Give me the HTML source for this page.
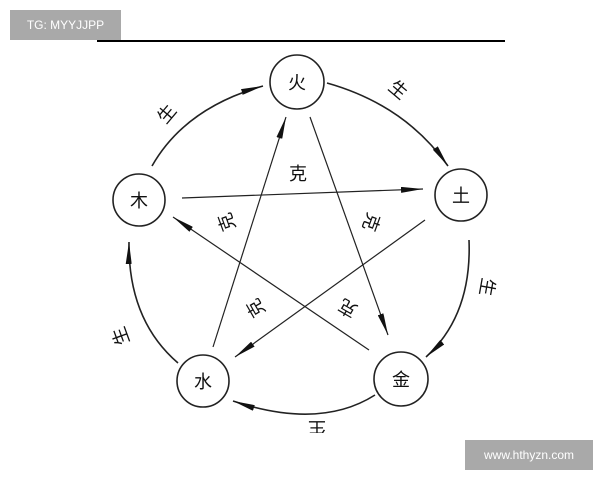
<!DOCTYPE html>
<html><head><meta charset="utf-8"><style>
html,body{margin:0;padding:0;background:#fff;width:600px;height:480px;overflow:hidden;position:relative;font-family:"Liberation Sans","Noto Sans CJK SC",sans-serif}
.tg{position:absolute;left:10px;top:10px;width:111px;height:30px;background:#a9a9a9;color:#fff;font-size:12px;line-height:30px;text-align:center}
.wm{position:absolute;left:465px;top:440px;width:128px;height:30px;background:#a9a9a9;color:#fff;font-size:12px;line-height:30px;text-align:center}
</style></head><body>
<svg width="600" height="480" style="position:absolute;left:0;top:0">
<defs>
<marker id="a" viewBox="0 0 22 6" refX="22" refY="3" markerWidth="22" markerHeight="6" markerUnits="userSpaceOnUse" orient="auto"><path d="M0,0 L22,3 L0,6 Z" fill="#111"/></marker>
</defs>
<line x1="97" y1="41" x2="505" y2="41" stroke="#000" stroke-width="2"/>
<g fill="none" stroke="#222" stroke-width="1.6">
<circle cx="297" cy="82" r="27"/>
<circle cx="461" cy="195" r="26"/>
<circle cx="401" cy="379" r="27"/>
<circle cx="203" cy="381" r="26"/>
<circle cx="139" cy="200" r="26"/>
<path d="M152,166 Q185,108 263,86" marker-end="url(#a)"/>
<path d="M327,83 Q405,105 448,166" marker-end="url(#a)"/>
<path d="M469,240 Q472,315 426,357" marker-end="url(#a)"/>
<path d="M375,395 Q320,430 233,401" marker-end="url(#a)"/>
<path d="M178,363 Q128,320 129,242" marker-end="url(#a)"/>
</g>
<g stroke="#222" stroke-width="1.2">
<line x1="213" y1="347" x2="286" y2="117" marker-end="url(#a)"/>
<line x1="310" y1="117" x2="388" y2="335" marker-end="url(#a)"/>
<line x1="182" y1="198" x2="423" y2="189" marker-end="url(#a)"/>
<line x1="425" y1="220" x2="235" y2="357" marker-end="url(#a)"/>
<line x1="369" y1="350" x2="173" y2="217" marker-end="url(#a)"/>
</g>
<g font-family="Liberation Sans, Noto Sans CJK SC, sans-serif" font-size="18" fill="#111" text-anchor="middle">
<text x="297" y="89">火</text>
<text x="461" y="202">土</text>
<text x="401" y="386">金</text>
<text x="203" y="388">水</text>
<text x="139" y="207">木</text>
<text x="298" y="180">克</text>
<text x="0" y="6" transform="translate(227,222) rotate(-110)">克</text>
<text x="0" y="6" transform="translate(371,222) rotate(110)">克</text>
<text x="0" y="6" transform="translate(256,308) rotate(-120)">克</text>
<text x="0" y="6" transform="translate(348,308) rotate(-150)">克</text>
<text x="0" y="6" transform="translate(167,114) rotate(-50)">生</text>
<text x="0" y="6" transform="translate(398,90) rotate(40)">生</text>
<text x="0" y="6" transform="translate(487,287) rotate(100)">生</text>
<text x="0" y="6" transform="translate(121,336) rotate(-110)">生</text>
<text x="0" y="6" transform="translate(317,428) rotate(180)">生</text>
</g>
<rect x="0" y="433" width="600" height="8" fill="#fff"/>
</svg>
<div class="tg">TG: MYYJJPP</div>
<div class="wm">www.hthyzn.com</div>
</body></html>
